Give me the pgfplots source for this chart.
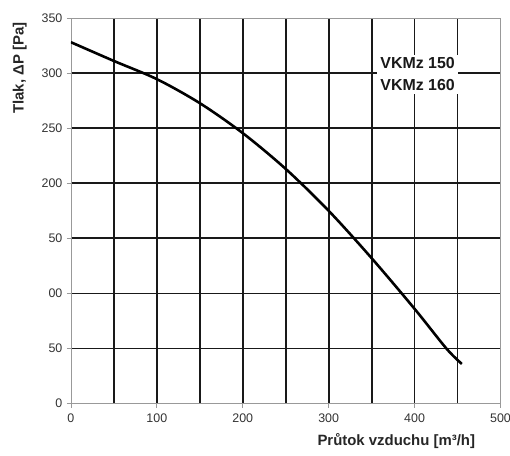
\documentclass[border=0pt]{standalone}
\usepackage{fontspec}
\setmainfont{Liberation Sans}
\usepackage{pgfplots}
\pgfplotsset{compat=1.18}

\begin{document}
\begin{tikzpicture}
\begin{axis}[
  scale only axis,
  width=430bp, height=386bp,
  xmin=0, xmax=500, ymin=0, ymax=350,
  xtick={0,100,...,500},
  xticklabels={0,100,200,300,400,500},
  ytick={0,50,...,350},
  yticklabels={0,50,00,50,200,250,300,350},
  minor xtick={50,100,...,450},
  minor ytick={50,100,...,300},
  xminorgrids, yminorgrids,
  minor grid style={black!90, line width=1.8bp},
  axis line style={gray!80, line width=0.8bp},
  tick style={gray!80, line width=0.8bp},
  tick align=outside,
  major tick length=4bp, minor tick length=0pt,
  xtick pos=bottom, ytick pos=left,
  ticklabel style={font=\fontsize{12.5}{14}\selectfont, text=black!80},
  xticklabel style={yshift=-3bp},
  yticklabel style={xshift=-1bp},
  xlabel={Průtok vzduchu [m³/h]},
  ylabel={Tlak, ΔP [Pa]},
  label style={font=\bfseries\fontsize{15}{17}\selectfont, text=black!85},
  xlabel style={at={(axis description cs:0.949,-0.109)}, anchor=base east},
  ylabel style={at={(axis description cs:-0.119,0.997)}, anchor=east},
]
\addplot[black, line width=2.6bp, smooth, tension=0.5] coordinates {
  (0,328) (50,311) (100,294.5) (150,272.7) (200,245.5) (250,213)
  (300,175) (350,132) (400,86) (437,50) (455,36)
};
\coordinate (vk) at (axis cs:403.5,299);
\end{axis}
\node[fill=white, align=left, inner sep=3bp,
      font=\bfseries\fontsize{16}{22}\selectfont, text=black!90] at (vk)
  {VKMz 150\\VKMz 160};
\pgfresetboundingbox
\path[use as bounding box] (current axis.south west) ++(-71bp,-52bp)
  rectangle ([shift={(9.5bp,18bp)}]current axis.north east);
\end{tikzpicture}
\end{document}
